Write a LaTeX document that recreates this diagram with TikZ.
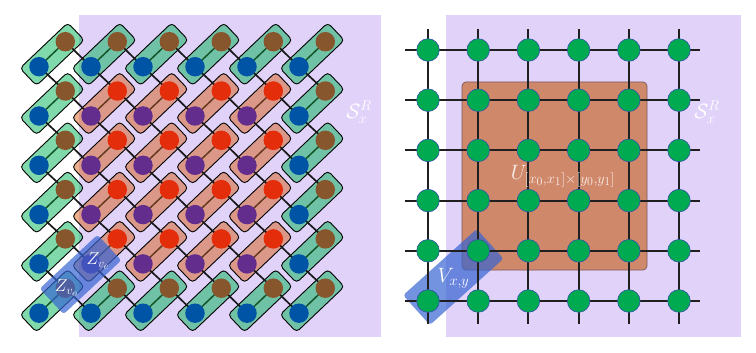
\documentclass[tikz,border=0pt]{standalone}
\definecolor{lav}{RGB}{225,210,250}
\definecolor{dotblue}{RGB}{0,84,166}
\definecolor{dotbrown}{RGB}{135,86,45}
\definecolor{dotred}{RGB}{228,45,10}
\definecolor{dotpurple}{RGB}{98,45,140}
\definecolor{boxgreen}{RGB}{0,180,85}
\definecolor{boxorange}{RGB}{215,95,25}
\definecolor{sqfill}{RGB}{204,118,72}
\definecolor{bondgreen}{RGB}{20,85,40}
\definecolor{bondbrown}{RGB}{100,58,28}
\definecolor{gridgreen}{RGB}{0,170,80}
\definecolor{gridedge}{RGB}{50,80,170}
\definecolor{ovblue}{RGB}{55,100,210}
\definecolor{sqedge}{RGB}{120,90,90}
\begin{document}
\begin{tikzpicture}[x=1pt,y=-1pt,
  link/.style={line width=1.7pt, black!90},
  pairbox/.style={draw=black, line width=0.9pt, rounded corners=4pt, minimum width=66pt, minimum height=24pt, inner sep=0pt, fill opacity=0.5},
  bond/.style={line width=1.5pt},
  dot/.style={circle, inner sep=0pt, minimum size=19.5pt},
  gdot/.style={circle, inner sep=0pt, minimum size=22.6pt, fill=gridgreen, draw=gridedge, line width=0.6pt},
  gline/.style={line width=2pt, black!88},
  ovbox/.style={fill=ovblue, fill opacity=0.7, rounded corners=3pt, inner sep=0pt},
  lbl/.style={text=white, inner sep=0pt},
]
\useasboundingbox (0,0) rectangle (756,353);
% ---------------- left panel ----------------
\fill[lav] (79,15) rectangle (381,337);
\foreach \i in {0,...,5} {
  \foreach \j in {0,...,5} {
    \coordinate (B\i\j) at ({39+52*\i},{66.7+49.3*\j});
    \coordinate (R\i\j) at ({65.3+52*\i},{41.7+49.3*\j});
  }
}
% pair boxes
\foreach \i in {0,...,5} {
  \foreach \j in {0,...,5} {
    \pgfmathtruncatemacro\inn{and(and(\i>0,\i<5),and(\j>0,\j<5))}
    \ifnum\inn=1
      \path (B\i\j) -- (R\i\j) node[pairbox, fill=boxorange, midway, sloped] (P\i\j) {};
    \else
      \path (B\i\j) -- (R\i\j) node[pairbox, fill=boxgreen, midway, sloped] (P\i\j) {};
    \fi
  }
}
% links between pairs
\foreach \i in {0,...,5} {
  \foreach \j in {0,...,4} {
    \pgfmathtruncatemacro\jj{\j+1}
    \draw[link] (B\i\j) -- (R\i\jj);
  }
}
\foreach \i in {0,...,4} {
  \foreach \j in {0,...,5} {
    \pgfmathtruncatemacro\ii{\i+1}
    \draw[link] (R\i\j) -- (B\ii\j);
  }
}
% bonds and dots
\foreach \i in {0,...,5} {
  \foreach \j in {0,...,5} {
    \pgfmathtruncatemacro\inn{and(and(\i>0,\i<5),and(\j>0,\j<5))}
    \ifnum\inn=1
      \draw[bond, bondbrown] (B\i\j) -- (R\i\j);
      \node[dot, fill=dotpurple] (dB\i\j) at (B\i\j) {};
      \node[dot, fill=dotred] (dR\i\j) at (R\i\j) {};
    \else
      \draw[bond, bondgreen] (B\i\j) -- (R\i\j);
      \node[dot, fill=dotblue] (dB\i\j) at (B\i\j) {};
      \node[dot, fill=dotbrown] (dR\i\j) at (R\i\j) {};
    \fi
  }
}
\node[ovbox, rotate=43, minimum width=79pt, minimum height=35pt] (Z) at (80.5,274.5) {};
\node[lbl, font=\LARGE] (ze) at (98,261) {$Z_{v_e}$};
\node[lbl, font=\LARGE] (zo) at (66.5,288) {$Z_{v_o}$};
\node[lbl, font=\huge] (SL) at (359,112) {$\mathcal{S}_x^R$};
% ---------------- right panel ----------------
\fill[lav] (446,15) rectangle (741,337);
\node[draw=sqedge, line width=0.7pt, fill=sqfill, fill opacity=0.8, rounded corners=4pt, minimum width=185pt, minimum height=188pt, inner sep=0pt] (U) at (554.5,176) {};
\node[ovbox, rotate=42, minimum width=99pt, minimum height=40pt] (V) at (453.3,277) {};
\foreach \k in {0,...,5} {
  \coordinate (HL\k) at (405,{50+50.2*\k});
  \coordinate (HR\k) at (700,{50+50.2*\k});
  \coordinate (VT\k) at ({428+50.2*\k},29);
  \coordinate (VB\k) at ({428+50.2*\k},324);
  \draw[gline] (HL\k) -- (HR\k);
  \draw[gline] (VT\k) -- (VB\k);
}
\foreach \i in {0,...,5} {
  \foreach \j in {0,...,5} {
    \node[gdot] (G\i\j) at ({428+50.2*\i},{50+50.2*\j}) {};
  }
}
\node[lbl, text opacity=0.85, font=\huge] (Ul) at (563,176) {$U_{[x_0,x_1]\times[y_0,y_1]}$};
\node[lbl, font=\huge] (Vl) at (453.5,278) {$V_{x,y}$};
\node[lbl, font=\huge] (SR) at (707,112) {$\mathcal{S}_x^R$};
\end{tikzpicture}
\end{document}
